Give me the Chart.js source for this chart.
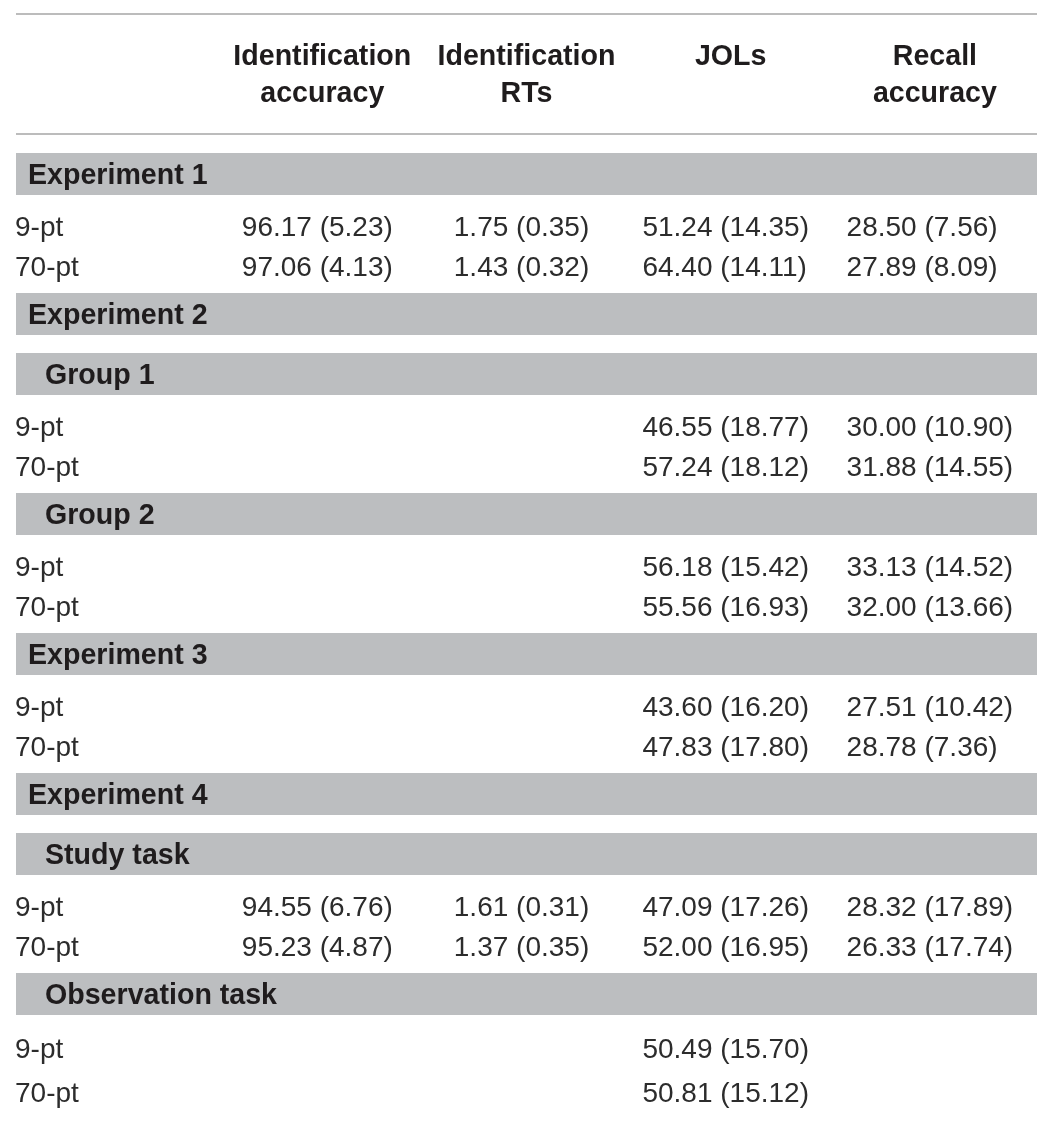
<!DOCTYPE html>
<html>
<head>
<meta charset="utf-8">
<script src="https://cdn.jsdelivr.net/npm/chart.js@4.4.1/dist/chart.umd.min.js"></script>
<style>
  html, body { margin: 0; padding: 0; background: #ffffff; }
  #c { display: block; }
</style>
</head>
<body>
<canvas id="c" width="1054" height="1125"></canvas>
<script>
// ---------- DATA ----------
const columnKeys = ["label", "idAcc", "idRT", "jol", "recall"];
const columnHeaders = [
  [],
  ["Identification", "accuracy"],
  ["Identification", "RTs"],
  ["JOLs"],
  ["Recall", "accuracy"]
];

// level 0 = experiment band, 1 = sub-group band, 2 = data row
const rowLabels = [
  "Experiment 1", "9-pt", "70-pt",
  "Experiment 2", "Group 1", "9-pt", "70-pt", "Group 2", "9-pt", "70-pt",
  "Experiment 3", "9-pt", "70-pt",
  "Experiment 4", "Study task", "9-pt", "70-pt", "Observation task", "9-pt", "70-pt"
];
const rowLevels = [0, 2, 2, 0, 1, 2, 2, 1, 2, 2, 0, 2, 2, 0, 1, 2, 2, 1, 2, 2];

// values for the 12 data rows, in order of appearance
const idAccMean  = [96.17, 97.06, null, null, null, null, null, null, 94.55, 95.23, null, null];
const idAccSD    = [5.23, 4.13, null, null, null, null, null, null, 6.76, 4.87, null, null];
const idRtMean   = [1.75, 1.43, null, null, null, null, null, null, 1.61, 1.37, null, null];
const idRtSD     = [0.35, 0.32, null, null, null, null, null, null, 0.31, 0.35, null, null];
const jolMean    = [51.24, 64.40, 46.55, 57.24, 56.18, 55.56, 43.60, 47.83, 47.09, 52.00, 50.49, 50.81];
const jolSD      = [14.35, 14.11, 18.77, 18.12, 15.42, 16.93, 16.20, 17.80, 17.26, 16.95, 15.70, 15.12];
const recallMean = [28.50, 27.89, 30.00, 31.88, 33.13, 32.00, 27.51, 28.78, 28.32, 26.33, null, null];
const recallSD   = [7.56, 8.09, 10.90, 14.55, 14.52, 13.66, 10.42, 7.36, 17.89, 17.74, null, null];

// ---------- STYLE / LAYOUT ----------
const FONT = '"Liberation Sans", Arial, Helvetica, sans-serif';
const SIZE = 28;
const BOLD_SIZE = 28.6;
const BAND_COLOR = '#bcbec0';
const RULE_COLOR = '#a6a6a6';
const TEXT_COLOR = '#2c2c2c';
const BOLD_COLOR = '#1f1c1d';
const TOP_RULE = 14, HEAD_RULE = 134;
const HEAD_BASELINES = [65, 102];
const TABLE_START = 146, BAND_SLOT = 60, ROW_SLOT = 40, BAND_H = 42, BAND_PAD_TOP = 7;
const LAST_SECTION_ROW_SLOT = 44;

function fmt(m, s) { return (m === null) ? null : m.toFixed(2) + ' (' + s.toFixed(2) + ')'; }
const columnValues = [
  null,
  idAccMean.map((m, i) => fmt(m, idAccSD[i])),
  idRtMean.map((m, i) => fmt(m, idRtSD[i])),
  jolMean.map((m, i) => fmt(m, jolSD[i])),
  recallMean.map((m, i) => fmt(m, recallSD[i]))
];

const tablePlugin = {
  id: 'tablePlugin',
  afterDraw(chart) {
    const ctx = chart.ctx;
    const xs = chart.scales.x, ys = chart.scales.y;
    const area = chart.chartArea;
    ctx.save();

    // rules
    ctx.strokeStyle = RULE_COLOR;
    ctx.lineWidth = 1.6;
    [TOP_RULE, HEAD_RULE].forEach(v => {
      const y = ys.getPixelForValue(v);
      ctx.beginPath(); ctx.moveTo(area.left, y); ctx.lineTo(area.right, y); ctx.stroke();
    });

    // headers
    ctx.fillStyle = BOLD_COLOR;
    ctx.font = 'bold ' + BOLD_SIZE + 'px ' + FONT;
    ctx.textAlign = 'center';
    ctx.textBaseline = 'alphabetic';
    columnHeaders.forEach((lines, ci) => {
      const x = xs.getPixelForValue(ci);
      lines.forEach((t, li) => ctx.fillText(t, x, ys.getPixelForValue(HEAD_BASELINES[li])));
    });

    // column block offsets: left-aligned text centred by widest entry
    ctx.font = SIZE + 'px ' + FONT;
    const colLeft = columnValues.map((vals, ci) => {
      if (!vals) return null;
      let w = 0;
      vals.forEach(v => { if (v) w = Math.max(w, ctx.measureText(v).width); });
      return xs.getPixelForValue(ci) - w / 2 - 5;
    });

    // index of the last band row: rows after it use the looser spacing
    let lastBand = 0;
    rowLevels.forEach((l, i) => { if (l < 2) lastBand = i; });

    // rows
    let pos = TABLE_START, dataIdx = 0;
    rowLabels.forEach((label, ri) => {
      const lvl = rowLevels[ri];
      if (lvl < 2) {
        const top = ys.getPixelForValue(pos + BAND_PAD_TOP);
        const bot = ys.getPixelForValue(pos + BAND_PAD_TOP + BAND_H);
        ctx.fillStyle = BAND_COLOR;
        ctx.fillRect(area.left, top, area.right - area.left, bot - top);
        const cy = (top + bot) / 2;
        ctx.fillStyle = BOLD_COLOR;
        ctx.font = 'bold ' + BOLD_SIZE + 'px ' + FONT;
        ctx.textAlign = 'left';
        ctx.fillText(label, area.left + (lvl === 0 ? 12 : 29), cy + 10);
        pos += BAND_SLOT;
      } else {
        const slot = ri > lastBand ? LAST_SECTION_ROW_SLOT : ROW_SLOT;
        const cy = ys.getPixelForValue(pos + slot / 2);
        ctx.fillStyle = TEXT_COLOR;
        ctx.font = SIZE + 'px ' + FONT;
        ctx.textAlign = 'left';
        ctx.fillText(label, area.left - 1, cy + 10);
        for (let ci = 1; ci < columnValues.length; ci++) {
          const v = columnValues[ci][dataIdx];
          if (v) ctx.fillText(v, colLeft[ci], cy + 10);
        }
        dataIdx++;
        pos += slot;
      }
    });
    ctx.restore();
  }
};

new Chart(document.getElementById('c'), {
  type: 'scatter',
  data: { labels: columnKeys, datasets: [{ data: [] }] },
  options: {
    responsive: false,
    animation: false,
    events: [],
    layout: { padding: { left: 16, right: 17, top: 0, bottom: 0 } },
    plugins: { legend: { display: false }, tooltip: { enabled: false }, title: { display: false } },
    scales: {
      x: { type: 'category', labels: columnKeys, offset: true, display: false },
      y: { type: 'linear', min: 0, max: 1125, reverse: true, display: false }
    }
  },
  plugins: [tablePlugin]
});
</script>
</body>
</html>
